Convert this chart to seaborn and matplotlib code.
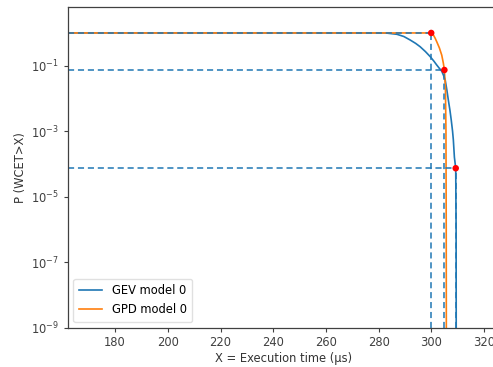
import matplotlib
matplotlib.use("Agg")

import matplotlib.pyplot as plt
import matplotlib.ticker as mticker
import numpy as np
import pandas as pd
import seaborn as sns

# Exceedance curves
gev_x = [162, 280, 283, 286.9, 289.5, 291.9, 294.0, 295.7, 297.7, 299.5, 301.0, 302.0,
         303.0, 303.9, 304.6, 305.2, 305.8, 306.4, 307.0, 307.5, 308.0, 308.3, 308.7,
         309.2, 309.35, 309.4]
gev_p = [1.0, 1.0, 0.99, 0.91, 0.78, 0.61, 0.48, 0.38, 0.27, 0.19, 0.135, 0.105,
         0.083, 0.068, 0.05, 0.037, 0.019, 0.0089, 0.0044, 0.0022, 0.0010, 5.4e-4,
         1.6e-4, 7.4e-5, 1e-6, 1e-10]

gpd_x = [162, 300.0, 300.8, 301.4, 302.0, 303.0, 303.9, 304.5, 304.9, 305.3, 305.5,
         305.6, 305.65]
gpd_p = [1.0, 1.0, 0.85, 0.69, 0.54, 0.35, 0.21, 0.12, 0.074, 0.02, 1e-3, 1e-6, 1e-10]

# WCET estimates (marked points)
pt_x = [299.9, 304.9, 309.2]
pt_p = [1.0, 0.074, 7.4e-5]

X_MIN, X_MAX = 162.0, 326.0
Y_MIN, Y_MAX = 1e-9, 6.2

BLUE = "#1f77b4"
ORANGE = "#ff7f0e"

plt.rcParams.update({
    "font.family": ["DejaVu Sans"],
    "font.size": 8.3,
    "axes.edgecolor": "0.25",
    "axes.linewidth": 0.9,
    "xtick.color": "0.25",
    "ytick.color": "0.25",
    "xtick.major.size": 2.7,
    "ytick.major.size": 2.7,
    "axes.labelcolor": "0.2",
})

fig = plt.figure(figsize=(4.93, 3.67), dpi=100)
W, H = 493.0, 367.0
left, top, bottom = 67.7, 7.0, 327.7
right = left + (X_MAX - X_MIN) * 2.636
ax = fig.add_axes([left / W, 1 - bottom / H, (right - left) / W, (bottom - top) / H])

gev = pd.DataFrame({"x": gev_x, "p": gev_p})
gpd = pd.DataFrame({"x": gpd_x, "p": gpd_p})
pts = pd.DataFrame({"x": pt_x, "p": pt_p})

sns.lineplot(data=gev, x="x", y="p", sort=False, ax=ax, color=BLUE,
             linewidth=1.2, label="GEV model 0")
sns.lineplot(data=gpd, x="x", y="p", sort=False, ax=ax, color=ORANGE,
             linewidth=1.2, label="GPD model 0")

# dashed guides from each estimate to the axes
for x, p in zip(pt_x, pt_p):
    ax.plot([X_MIN, x], [p, p], ls="--", color=BLUE, lw=1.1, dashes=(4, 2.5))
    ax.plot([x, x], [Y_MIN, p], ls="--", color=BLUE, lw=1.1, dashes=(4, 2.5))

sns.scatterplot(data=pts, x="x", y="p", ax=ax, color="red", s=22,
                edgecolor="none", zorder=5, legend=False)

ax.set_yscale("log")
ax.set_xlim(X_MIN, X_MAX)
ax.set_ylim(Y_MIN, Y_MAX)
ax.set_xticks(np.arange(180, 321, 20))
ax.set_yticks([1e-1, 1e-3, 1e-5, 1e-7, 1e-9])
ax.yaxis.set_minor_locator(mticker.NullLocator())
ax.yaxis.set_major_formatter(mticker.LogFormatterMathtext())
ax.set_xlabel("X = Execution time (µs)", labelpad=2)
ax.set_ylabel("P (WCET>X)", labelpad=3)

ax.legend(loc="lower left", fontsize=8.3, handlelength=2.0, borderpad=0.5,
          labelspacing=0.5, framealpha=0.8, edgecolor="0.85")

fig.savefig("out.png", dpi=100)
plt.close(fig)
